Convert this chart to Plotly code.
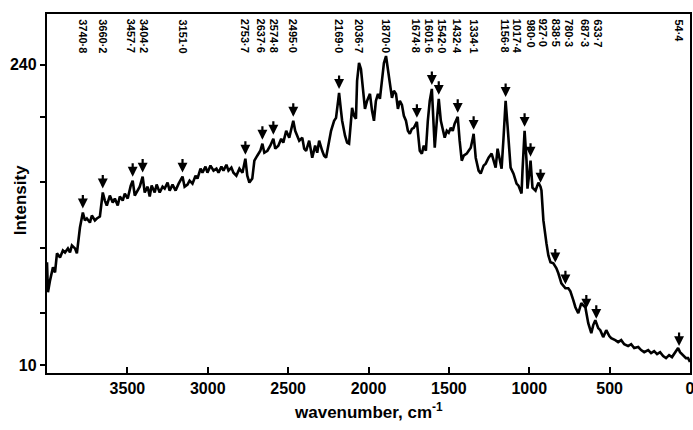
import numpy as np
import plotly.graph_objects as go

# Spectrum (wavenumber in cm^-1, intensity)
wavenumber = [4000, 3994, 3981, 3963, 3950, 3938, 3919, 3901, 3888, 3870, 3857, 3845, 3826, 3814, 3795, 3777,
              3764, 3752, 3733, 3721, 3702, 3690, 3671, 3653, 3640, 3628, 3609, 3591, 3578, 3560, 3547, 3529,
              3516, 3498, 3479, 3467, 3454, 3436, 3423, 3405, 3392, 3374, 3361, 3349, 3330, 3318, 3299, 3281,
              3268, 3250, 3237, 3219, 3200, 3181, 3169, 3157, 3144, 3126, 3113, 3095, 3076, 3064, 3045, 3033,
              3014, 3002, 2983, 2964, 2946, 2933, 2915, 2902, 2884, 2871, 2853, 2840, 2822, 2803, 2784, 2766,
              2754, 2741, 2723, 2710, 2692, 2673, 2660, 2648, 2629, 2611, 2592, 2580, 2561, 2543, 2530, 2512,
              2493, 2481, 2468, 2456, 2443, 2431, 2412, 2400, 2388, 2369, 2350, 2332, 2319, 2307, 2288, 2276,
              2264, 2245, 2233, 2214, 2202, 2189, 2183, 2171, 2164, 2146, 2133, 2121, 2109, 2102, 2090, 2078,
              2071, 2059, 2047, 2034, 2022, 2009, 1991, 1978, 1966, 1954, 1941, 1929, 1916, 1904, 1891, 1879,
              1867, 1854, 1842, 1829, 1817, 1805, 1792, 1780, 1767, 1755, 1743, 1730, 1718, 1699, 1681, 1668,
              1656, 1643, 1631, 1619, 1606, 1594, 1588, 1575, 1563, 1550, 1538, 1526, 1513, 1501, 1488, 1476,
              1464, 1445, 1433, 1420, 1408, 1389, 1377, 1364, 1352, 1346, 1333, 1315, 1302, 1284, 1271, 1253,
              1234, 1222, 1209, 1197, 1184, 1172, 1160, 1147, 1135, 1129, 1116, 1098, 1079, 1067, 1048, 1042,
              1029, 1017, 1011, 998, 992, 980, 961, 943, 930, 924, 912, 893, 881, 868, 850, 831,
              819, 800, 788, 775, 757, 744, 726, 713, 695, 676, 664, 651, 633, 614, 602, 589,
              571, 558, 540, 521, 502, 490, 465, 447, 428, 409, 385, 366, 347, 322, 304, 285,
              260, 242, 223, 205, 186, 167, 149, 130, 112, 93, 74, 62, 43, 25, 12, 0]
intensity = [88.7, 65.8, 74.9, 84.9, 81.0, 95.6, 92.5, 97.8, 96.3, 99.4, 96.3, 101.7, 99.4, 95.6, 115.4, 126.9,
             120.8, 122.3, 119.2, 124.6, 120.8, 122.3, 123.8, 142.2, 136.0, 132.2, 139.9, 134.5, 137.6, 132.2, 139.1, 136.0,
             141.4, 137.6, 147.5, 151.3, 139.9, 143.7, 146.7, 154.4, 142.2, 146.7, 139.1, 147.5, 142.2, 148.3, 142.2, 146.7,
             145.2, 149.8, 143.7, 148.3, 143.7, 149.0, 151.3, 154.4, 146.7, 148.3, 151.3, 149.0, 155.1, 152.9, 160.5, 157.4,
             162.0, 157.4, 162.8, 159.0, 160.5, 157.4, 162.0, 159.0, 163.5, 159.0, 161.3, 157.4, 155.1, 160.5, 157.4, 168.1,
             155.1, 149.8, 152.9, 166.6, 170.4, 174.2, 179.6, 172.7, 174.2, 178.1, 183.4, 175.8, 178.1, 183.4, 180.4, 189.5,
             184.2, 191.0, 197.2, 189.5, 185.7, 181.9, 184.2, 175.8, 174.2, 181.9, 168.9, 178.1, 172.7, 181.9, 174.2, 170.4,
             168.9, 181.9, 189.5, 197.2, 199.4, 212.4, 218.5, 204.8, 197.2, 185.7, 180.4, 179.6, 197.2, 207.1, 201.0, 198.7,
             227.7, 241.5, 236.9, 220.1, 206.3, 212.4, 217.8, 204.8, 197.2, 212.4, 217.8, 214.0, 227.7, 241.5, 246.8, 235.4,
             223.9, 214.7, 220.1, 217.8, 206.3, 212.4, 209.4, 201.0, 197.2, 189.5, 187.2, 191.0, 191.8, 196.4, 174.2, 172.0,
             178.1, 174.2, 197.2, 212.4, 221.6, 197.2, 176.5, 197.2, 214.0, 197.2, 189.5, 184.2, 189.5, 188.0, 191.8, 189.5,
             194.9, 200.2, 181.9, 166.6, 170.4, 172.0, 174.2, 176.5, 183.4, 187.2, 168.9, 159.0, 156.7, 162.8, 164.3, 168.9,
             172.0, 166.6, 161.3, 175.8, 166.6, 160.5, 184.2, 212.4, 193.3, 184.2, 161.3, 156.7, 149.0, 147.5, 141.4, 159.0,
             189.5, 166.6, 145.2, 159.0, 166.6, 146.0, 143.7, 149.8, 146.7, 143.7, 120.8, 103.2, 94.0, 88.7, 87.9, 84.1,
             80.3, 72.6, 70.3, 68.8, 68.8, 66.5, 59.7, 54.3, 49.7, 57.4, 55.8, 54.3, 42.1, 34.4, 40.6, 44.4,
             38.3, 36.7, 31.4, 36.7, 32.2, 30.6, 29.1, 27.6, 29.1, 26.0, 24.5, 26.0, 23.0, 23.8, 21.5, 19.9,
             21.5, 19.2, 20.7, 18.4, 19.9, 16.9, 15.3, 17.6, 16.1, 19.9, 23.0, 19.9, 17.6, 15.3, 15.3, 12.3]

# Marked peaks: printed label, position of the peak on the chart's axis, whether an arrow is drawn
peak_labels = ["3740·8", "3660·2", "3457·7", "3404·2", "3151·0", "2753·7", "2637·6", "2574·8", "2495·0",
               "2169·0", "2036·7", "1870·0", "1674·8", "1601·6", "1542·0", "1432·4", "1334·1", "1156·8",
               "1017·4", "980·0", "927·0", "838·5", "780·3", "687·3", "633·7", "54·4"]
peak_wn = [3777, 3653, 3467, 3405, 3157, 2766, 2660, 2592, 2468,
           2183, 2059, 1891, 1699, 1606, 1563, 1445, 1346, 1147,
           1029, 992, 930, 838, 775, 645, 583, 68]
peak_arrow = [True, True, True, True, True, True, True, True, True,
              True, False, False, True, True, True, True, True, True,
              True, True, True, True, True, True, True, True]

x_ticks = [3500, 3000, 2500, 2000, 1500, 1000, 500, 0]
y_ticks = [10, 50, 100, 150, 200, 240]
y_ticktext = ["10", " ", " ", " ", " ", "240"]

X_RANGE = [4000, 0]
Y_RANGE = [3.9, 279]
ML, MR, MT, MB = 47, 3, 14, 57
W, H = 693, 430
plot_w = W - ML - MR

fig = go.Figure()
fig.add_trace(go.Scatter(x=wavenumber, y=intensity, mode="lines",
                         line=dict(color="black", width=2.6), hoverinfo="skip"))

# arrows above peaks
wn_inc = np.array(wavenumber[::-1], dtype=float)
in_inc = np.array(intensity[::-1], dtype=float)
for wn, flag in zip(peak_wn, peak_arrow):
    if not flag:
        continue
    yv = float(np.interp(wn, wn_inc, in_inc))
    fig.add_annotation(x=wn, y=yv, xref="x", yref="y", text="", showarrow=True,
                       ax=0, ay=-19, axref="pixel", ayref="pixel", standoff=4,
                       arrowhead=2, arrowsize=0.9, arrowwidth=2.2, arrowcolor="black")

# spread label positions (cluster method) so rotated labels don't overlap
px_per_wn = plot_w / (X_RANGE[0] - X_RANGE[1])
desired = [(X_RANGE[0] - w) * px_per_wn for w in peak_wn]
min_gap = 12.8
clusters = [[d] for d in desired]
def layout_cluster(c):
    n = len(c)
    center = sum(c) / n
    start = center - (n - 1) * min_gap / 2
    return [start + k * min_gap for k in range(n)]
changed = True
while changed:
    changed = False
    for i in range(len(clusters) - 1):
        a = layout_cluster(clusters[i])
        b = layout_cluster(clusters[i + 1])
        if b[0] - a[-1] < min_gap - 1e-6:
            clusters[i] = clusters[i] + clusters[i + 1]
            del clusters[i + 1]
            changed = True
            break
pos = []
for c in clusters:
    pos.extend(layout_cluster(c))

for lab, p in zip(peak_labels, pos):
    wn_lab = X_RANGE[0] - p / px_per_wn
    fig.add_annotation(x=wn_lab, y=1, xref="x", yref="paper", yanchor="top", xanchor="center",
                       yshift=-3, text=lab, textangle=90, showarrow=False,
                       font=dict(family="Liberation Sans", size=11, color="black", weight="bold"))

fig.add_annotation(x=-0.041, y=0.48, xref="paper", yref="paper", text="Intensity", textangle=-90,
                   xanchor="center", yanchor="middle", showarrow=False,
                   font=dict(family="Liberation Sans", size=17, color="black", weight="bold"))
fig.add_annotation(x=0.5, y=-0.105, xref="paper", yref="paper", text="wavenumber, cm<sup>-1</sup>",
                   showarrow=False, xanchor="center", yanchor="middle",
                   font=dict(family="Liberation Sans", size=17, color="black", weight="bold"))

fig.update_layout(
    width=W, height=H, margin=dict(l=ML, r=MR, t=MT, b=MB),
    paper_bgcolor="white", plot_bgcolor="white", showlegend=False,
    xaxis=dict(range=X_RANGE, tickvals=x_ticks, ticktext=[str(v) for v in x_ticks],
               ticks="inside", ticklen=6, tickwidth=2, tickcolor="black",
               showline=True, mirror=True, linewidth=2.4, linecolor="black",
               showgrid=False, zeroline=False, automargin=False, ticklabeloverflow="allow",
               tickfont=dict(family="Liberation Sans", size=16, color="black", weight="bold")),
    yaxis=dict(range=Y_RANGE, tickvals=y_ticks, ticktext=y_ticktext,
               ticks="outside", ticklen=5, tickwidth=2, tickcolor="black",
               showline=True, mirror=True, linewidth=2.4, linecolor="black",
               showgrid=False, zeroline=False, automargin=False,
               tickfont=dict(family="Liberation Sans", size=16, color="black", weight="bold")),
)

fig.write_html("out.html", config={"displayModeBar": False},
               post_script="document.body.style.margin='0';document.body.style.overflow='hidden';")
